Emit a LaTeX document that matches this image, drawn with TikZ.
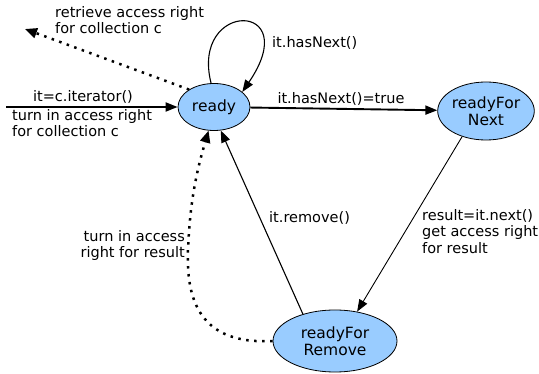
\documentclass[tikz,border=0pt]{standalone}
\usepackage{fontspec}
\setmainfont{DejaVu Sans}
\usetikzlibrary{arrows.meta,shapes.geometric}
\definecolor{statefill}{RGB}{153,204,255}
\tikzset{
  state/.style={ellipse, draw=black, line width=0.8pt, fill=statefill, inner sep=0pt,
    font=\fontsize{15.5}{17}\selectfont, align=center},
  lbl/.style={font=\fontsize{14.5}{16.5}\selectfont, inner sep=0pt},
  tip/.style={-{Triangle[length=12pt,width=9pt]}},
  edge/.style={tip, line width=1.1pt},
  heavy/.style={tip, line width=1.9pt},
  dots/.style={-{Triangle[length=12pt,width=10pt]}, line width=2.5pt, dash pattern=on 2.5pt off 5.5pt}
}
\begin{document}
\begin{tikzpicture}[x=1pt,y=-1pt]
  \useasboundingbox (0,0) rectangle (539,374);

  % states
  \node[state, minimum width=72pt, minimum height=47pt] (ready) at (214,107) {ready};
  \node[state, minimum width=90pt, minimum height=58pt] (rfn) at (486,111) {readyFor\\Next};
  \node[state, minimum width=124pt, minimum height=62pt] (rfr) at (335,341) {readyFor\\Remove};

  % free ends
  \coordinate (start) at (6,107);
  \coordinate (out) at (25,29);

  % creating the iterator
  \draw[heavy] (start) -- (ready);
  \node[lbl] (l1) at (83,97) {it=c.iterator()};
  \node[lbl, anchor=north west, align=left] (l2) at (12,109) {turn in access right\\for collection c};

  % returning the collection right
  \draw[dots] (ready.145) -- (out);
  \node[lbl, anchor=north west, align=left] (l3) at (55,6) {retrieve access right\\for collection c};

  % self loop
  \draw[edge] (ready.97) .. controls (190,0) and (305,0) .. (ready.28);
  \node[lbl, anchor=west] (l4) at (272,43) {it.hasNext()};

  % ready -> readyForNext
  \draw[heavy] (ready) -- (rfn);
  \node[lbl] (l5) at (341,99) {it.hasNext()=true};

  % readyForNext -> readyForRemove
  \draw[edge, line width=0.9pt] (rfn.227) -- (rfr.53);
  \node[lbl, anchor=north west, align=left] (l6) at (422,209) {result=it.next()\\get access right\\for result};

  % readyForRemove -> ready
  \draw[edge] (rfr.140) -- (ready.286);
  \node[lbl, anchor=west] (l7) at (269,218) {it.remove()};

  % returning the result right
  \draw[dots] (rfr.west) .. controls (200,345) and (186,300) .. (188,250)
              .. controls (190,200) and (197,170) .. (ready.257);
  \node[lbl, anchor=north east, align=right] (l8) at (185,230) {turn in access\\right for result};
\end{tikzpicture}
\end{document}
